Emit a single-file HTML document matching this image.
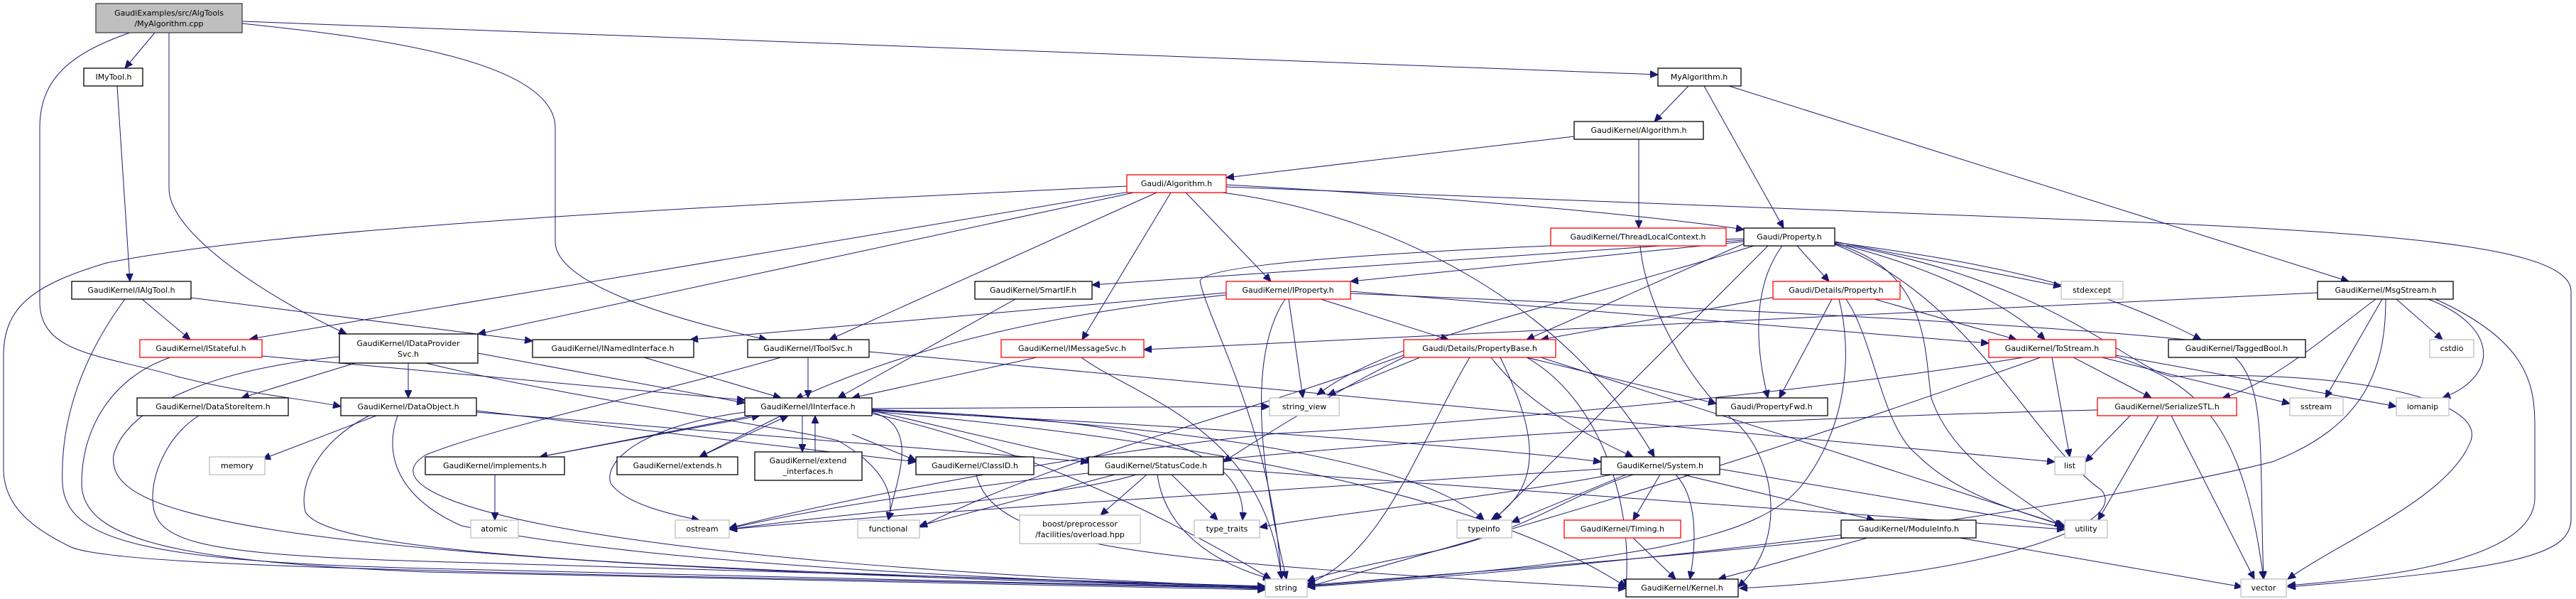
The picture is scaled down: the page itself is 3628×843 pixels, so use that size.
<!DOCTYPE html>
<html><head><meta charset="utf-8"><style>
html,body{margin:0;padding:0;background:#fff}
svg{display:block}
text{font-family:"DejaVu Sans","Liberation Sans",sans-serif;font-size:11px;fill:#000;text-anchor:middle}
.n rect{fill:#fff;stroke:#000;stroke-width:1.3}
.r rect{fill:#fff;stroke:#f00;stroke-width:1.3}
.g rect{fill:#fff;stroke:#bfbfbf;stroke-width:1.3}
.e path{fill:none;stroke:#191970;stroke-width:1}
</style></head><body>
<svg width="3628" height="843" viewBox="0 0 3628 843" xmlns="http://www.w3.org/2000/svg">
<defs><marker id="a" markerUnits="userSpaceOnUse" markerWidth="12" markerHeight="10" refX="11" refY="5" orient="auto"><path d="M0,0 L11,5 L0,10 z" fill="#191970" stroke="#191970"/></marker></defs>
<g class="e" marker-end="url(#a)">
<!-- top node -->
<path d="M218,46 L176,96"/>
<path d="M183,46 C100,75 56,110 56,180 L56,425 C56,500 150,500 250,530 C350,555 420,560 480,572"/>
<path d="M238,46 L238,265 C238,330 380,420 488,470"/>
<path d="M341,33 C500,50 782,80 782,180 L782,340 C782,400 950,450 1080,478"/>
<path d="M341,30 L2335,105"/>
<path d="M165,121 L183,396"/>
<path d="M200,421 L268,478"/>
<path d="M176,421 C110,510 85,600 88,680 C92,760 200,790 600,800 L1782,828"/>
<path d="M269,419 L750,480"/>
<path d="M369,501 L1049,563"/>
<path d="M240,503 C160,530 115,600 115,680 C115,760 250,790 600,805 L1782,830"/>
<!-- Gaudi/Algorithm.h -->
<path d="M1587,262 C1000,290 400,320 150,370 C50,400 5,430 5,500 L5,660 C5,720 60,750 100,770 C150,790 400,800 1000,812 L1782,828"/>
<path d="M1590,270 L352,477"/>
<path d="M1597,271 L673,470"/>
<path d="M1629,271 L1168,478"/>
<path d="M1649,271 L1524,478"/>
<path d="M1670,271 L1790,396"/>
<path d="M1721,271 C1950,300 2200,420 2330,643"/>
<path d="M1727,260 C2000,275 2300,300 2456,323"/>
<path d="M1727,263 L3020,313 C3400,330 3621,350 3621,410 L3621,730 C3621,780 3550,800 3222,826"/>
<path d="M2217,192 L1727,250"/>
<path d="M2308,196 L2308,321"/>
<path d="M2378,121 L2330,171"/>
<path d="M2400,121 L2512,321"/>
<path d="M2435,121 L3308,396"/>
<path d="M2310,346 C2320,450 2400,560 2440,590 C2500,640 2520,760 2448,826"/>
<!-- Gaudi/Property.h -->
<path d="M2531,346 L2576,396"/>
<path d="M2510,346 C2470,400 2470,480 2490,560"/>
<path d="M2584,340 L2903,403"/>
<path d="M2584,341 C2800,370 2950,400 3100,478"/>
<path d="M2584,342 C2700,370 2820,420 2880,478"/>
<path d="M2584,343 C2720,380 2710,500 2720,560 C2750,650 2850,700 2905,742"/>
<path d="M2584,344 C2780,420 2860,620 2960,690 C3000,740 2800,810 2450,828"/>
<path d="M2490,346 L2104,732"/>
<path d="M2470,346 C2200,430 1950,480 1855,556"/>
<path d="M2456,343 L2150,478"/>
<path d="M2456,340 L1902,396"/>
<path d="M2456,338 L1538,401"/>
<path d="M2456,336 C2000,350 1700,370 1690,395 C1700,450 1790,600 1805,815"/>
<path d="M2600,345 C2900,400 3000,520 3060,530 C3300,520 3500,560 3480,620 C3450,700 3300,760 3222,815"/>
<!-- Details/Property.h -->
<path d="M2580,421 L2506,560"/>
<path d="M2640,421 L2840,478"/>
<path d="M2500,418 L2170,478"/>
<path d="M2600,421 C2640,480 2650,600 2700,640 C2760,700 2850,720 2905,740"/>
<path d="M2590,421 C2610,500 2600,600 2540,680 C2480,760 2300,790 1841,825"/>
<!-- IProperty -->
<path d="M1860,421 L2040,478"/>
<path d="M1815,421 L1835,560"/>
<path d="M1727,415 C1500,440 1300,480 1120,562"/>
<path d="M1727,412 L972,478"/>
<path d="M1810,421 C1770,480 1760,600 1812,815"/>
<path d="M1902,410 L2801,483"/>
<path d="M1902,413 C2300,430 2800,450 3100,480 C3200,500 3180,600 3188,815"/>
<!-- misc row6 -->
<path d="M1460,503 L1200,560"/>
<path d="M1523,503 C1600,560 1780,600 1805,815"/>
<path d="M3264,412 L1611,492"/>
<path d="M1430,421 L1180,560"/>
<path d="M1138,503 L1138,560"/>
<path d="M1224,495 L2894,650"/>
<path d="M1100,503 C900,560 700,600 600,640 C500,700 800,790 1782,826"/>
<path d="M907,503 L1100,560"/>
<path d="M673,497 L1049,567"/>
<path d="M575,511 L575,560"/>
<path d="M500,511 L340,560"/>
<path d="M478,502 C300,520 180,570 160,640 C150,720 300,790 1782,827"/>
<path d="M600,511 C800,560 1100,600 1180,620 C1250,660 1260,700 1251,732"/>
<!-- DataObject / DSI -->
<path d="M530,585 L370,646"/>
<path d="M671,578 L1290,650"/>
<path d="M671,580 L1533,650"/>
<path d="M520,585 C450,620 420,680 430,720 C460,780 900,800 1782,826"/>
<path d="M560,585 C540,640 560,700 650,740 C900,790 1300,810 1782,829"/>
<path d="M280,585 C240,610 215,660 215,700 C215,760 260,780 600,790 L1782,825"/>
<!-- IInterface -->
<path d="M1060,585 L760,643"/>
<path d="M760,643 L1070,585"/>
<path d="M1100,585 L985,643"/>
<path d="M985,643 L1110,585"/>
<path d="M1130,585 L1130,636"/>
<path d="M1148,636 L1148,585"/>
<path d="M1228,578 L1540,650"/>
<path d="M1200,611 L1290,648"/>
<path d="M1049,580 C900,600 850,650 860,680 C880,710 950,725 985,732"/>
<path d="M1228,575 L1788,572"/>
<path d="M1228,576 C1500,590 1760,600 1750,732"/>
<path d="M1228,577 C1700,600 2000,650 2090,732"/>
<path d="M1228,579 C1700,620 2100,700 2290,826"/>
<path d="M1228,580 C1300,600 1260,680 1251,732"/>
<path d="M1228,582 C1400,620 1600,700 1790,815"/>
<path d="M1228,578 C1700,600 2100,630 2255,650"/>
<path d="M697,668 L697,732"/>
<!-- StatusCode -->
<path d="M1615,668 L1550,725"/>
<path d="M1650,668 L1715,732"/>
<path d="M1570,668 L1295,740"/>
<path d="M1630,668 C1640,740 1700,790 1790,815"/>
<path d="M1723,660 L2908,745"/>
<path d="M1600,668 C1500,700 1200,720 1027,745"/>
<path d="M1375,668 C1400,770 1600,790 2290,828"/>
<!-- PropertyBase -->
<path d="M2000,503 L1870,556"/>
<path d="M2070,503 C2000,620 1950,780 1841,822"/>
<path d="M2113,503 C2160,600 2180,680 2100,732"/>
<path d="M2100,503 C2150,570 2250,620 2300,643"/>
<path d="M2150,503 C2250,560 2300,700 2290,826"/>
<path d="M2170,503 L2908,740"/>
<path d="M2150,503 L2417,568"/>
<path d="M1977,503 C1900,540 1800,600 1723,650"/>
<path d="M1977,500 C1700,600 1500,640 1295,742"/>
<!-- ToStream / SerSTL / MsgStream -->
<path d="M2890,503 L2915,643"/>
<path d="M2920,503 L3030,560"/>
<path d="M2960,503 L3225,568"/>
<path d="M2980,500 L3375,572"/>
<path d="M2980,502 C3100,540 3160,600 3188,815"/>
<path d="M2874,503 C2600,600 2300,700 1841,826"/>
<path d="M2850,503 C2500,560 2000,600 1800,610 C1500,640 1200,700 1027,743"/>
<path d="M3000,585 L2937,650"/>
<path d="M3040,585 L2955,732"/>
<path d="M3058,585 L3175,815"/>
<path d="M2954,577 C2000,600 1300,680 1027,744"/>
<path d="M3346,421 C3280,470 3200,540 3130,560"/>
<path d="M3355,421 L3275,560"/>
<path d="M3375,421 L3440,478"/>
<path d="M3420,421 C3520,460 3520,530 3440,560"/>
<path d="M3430,421 C3560,480 3570,540 3570,600 L3570,700 C3570,780 3400,810 3222,824"/>
<path d="M3360,421 C3360,520 3330,600 3200,650 C3000,700 2500,780 1841,826"/>
<!-- System / Timing / ModuleInfo -->
<path d="M2290,668 L2129,735"/>
<path d="M2338,668 L2300,732"/>
<path d="M2360,668 C2390,700 2390,760 2380,815"/>
<path d="M2300,668 C2200,700 2150,750 2000,780 C1900,800 1860,810 1841,818"/>
<path d="M2255,660 C1800,690 1300,720 1027,745"/>
<path d="M2370,668 L2640,732"/>
<path d="M2422,660 L2908,742"/>
<path d="M2270,668 C2100,700 1900,720 1774,742"/>
<path d="M2300,757 L2360,815"/>
<path d="M2630,757 L2420,815"/>
<path d="M2600,757 C2300,790 2000,810 1841,824"/>
<path d="M2760,757 L3158,826"/>
</g>
<!-- nodes -->
<g><rect x="135" y="5" width="206" height="41" fill="#bfbfbf" stroke="#404040" stroke-width="1.3"/><text x="238" y="22">GaudiExamples/src/AlgTools</text><text x="238" y="37">/MyAlgorithm.cpp</text></g>
<g class="n"><rect x="118" y="96" width="83" height="25"/><text x="160" y="112">IMyTool.h</text></g>
<g class="n"><rect x="2335" y="96" width="117" height="25"/><text x="2393" y="112">MyAlgorithm.h</text></g>
<g class="n"><rect x="2217" y="171" width="182" height="25"/><text x="2308" y="187">GaudiKernel/Algorithm.h</text></g>
<g class="r"><rect x="1587" y="246" width="140" height="25"/><text x="1657" y="262">Gaudi/Algorithm.h</text></g>
<g class="r"><rect x="2184" y="321" width="247" height="25"/><text x="2307" y="337">GaudiKernel/ThreadLocalContext.h</text></g>
<g class="n"><rect x="2456" y="321" width="128" height="25"/><text x="2520" y="337">Gaudi/Property.h</text></g>
<g class="n"><rect x="101" y="396" width="168" height="25"/><text x="185" y="412">GaudiKernel/IAlgTool.h</text></g>
<g class="n"><rect x="1373" y="396" width="165" height="25"/><text x="1455" y="412">GaudiKernel/SmartIF.h</text></g>
<g class="r"><rect x="1727" y="396" width="175" height="25"/><text x="1814" y="412">GaudiKernel/IProperty.h</text></g>
<g class="r"><rect x="2497" y="396" width="179" height="25"/><text x="2586" y="412">Gaudi/Details/Property.h</text></g>
<g class="g"><rect x="2903" y="396" width="87" height="25"/><text x="2946" y="412">stdexcept</text></g>
<g class="n"><rect x="3264" y="396" width="191" height="25"/><text x="3360" y="412">GaudiKernel/MsgStream.h</text></g>
<g class="r"><rect x="197" y="478" width="172" height="25"/><text x="283" y="494">GaudiKernel/IStateful.h</text></g>
<g class="n"><rect x="478" y="470" width="195" height="41"/><text x="575" y="487">GaudiKernel/IDataProvider</text><text x="575" y="502">Svc.h</text></g>
<g class="n"><rect x="750" y="478" width="227" height="25"/><text x="863" y="494">GaudiKernel/INamedInterface.h</text></g>
<g class="n"><rect x="1053" y="478" width="171" height="25"/><text x="1138" y="494">GaudiKernel/IToolSvc.h</text></g>
<g class="r"><rect x="1410" y="478" width="201" height="25"/><text x="1510" y="494">GaudiKernel/IMessageSvc.h</text></g>
<g class="r"><rect x="1977" y="478" width="214" height="25"/><text x="2084" y="494">Gaudi/Details/PropertyBase.h</text></g>
<g class="r"><rect x="2801" y="478" width="179" height="25"/><text x="2890" y="494">GaudiKernel/ToStream.h</text></g>
<g class="n"><rect x="3054" y="478" width="193" height="25"/><text x="3150" y="494">GaudiKernel/TaggedBool.h</text></g>
<g class="g"><rect x="3422" y="478" width="62" height="25"/><text x="3453" y="494">cstdio</text></g>
<g class="n"><rect x="193" y="560" width="213" height="25"/><text x="300" y="576">GaudiKernel/DataStoreItem.h</text></g>
<g class="n"><rect x="480" y="560" width="191" height="25"/><text x="575" y="576">GaudiKernel/DataObject.h</text></g>
<g class="n"><rect x="1049" y="560" width="179" height="25"/><text x="1138" y="576">GaudiKernel/IInterface.h</text></g>
<g class="g"><rect x="1788" y="560" width="98" height="25"/><text x="1837" y="576">string_view</text></g>
<g class="n"><rect x="2417" y="560" width="157" height="25"/><text x="2495" y="576">Gaudi/PropertyFwd.h</text></g>
<g class="r"><rect x="2954" y="560" width="196" height="25"/><text x="3052" y="576">GaudiKernel/SerializeSTL.h</text></g>
<g class="g"><rect x="3225" y="560" width="75" height="25"/><text x="3262" y="576">sstream</text></g>
<g class="g"><rect x="3375" y="560" width="74" height="25"/><text x="3412" y="576">iomanip</text></g>
<g class="g"><rect x="295" y="643" width="78" height="25"/><text x="334" y="659">memory</text></g>
<g class="n"><rect x="599" y="643" width="196" height="25"/><text x="697" y="659">GaudiKernel/implements.h</text></g>
<g class="n"><rect x="869" y="643" width="170" height="25"/><text x="954" y="659">GaudiKernel/extends.h</text></g>
<g class="n"><rect x="1063" y="636" width="151" height="40"/><text x="1138" y="652">GaudiKernel/extend</text><text x="1138" y="667">_interfaces.h</text></g>
<g class="n"><rect x="1290" y="643" width="166" height="25"/><text x="1373" y="659">GaudiKernel/ClassID.h</text></g>
<g class="n"><rect x="1533" y="643" width="190" height="25"/><text x="1628" y="659">GaudiKernel/StatusCode.h</text></g>
<g class="n"><rect x="2255" y="643" width="167" height="25"/><text x="2338" y="659">GaudiKernel/System.h</text></g>
<g class="g"><rect x="2894" y="643" width="43" height="25"/><text x="2915" y="659">list</text></g>
<g class="g"><rect x="663" y="732" width="67" height="25"/><text x="696" y="748">atomic</text></g>
<g class="g"><rect x="951" y="732" width="76" height="25"/><text x="989" y="748">ostream</text></g>
<g class="g"><rect x="1208" y="732" width="87" height="25"/><text x="1251" y="748">functional</text></g>
<g class="g"><rect x="1436" y="725" width="170" height="40"/><text x="1521" y="741">boost/preprocessor</text><text x="1521" y="756">/facilities/overload.hpp</text></g>
<g class="g"><rect x="1682" y="732" width="92" height="25"/><text x="1728" y="748">type_traits</text></g>
<g class="g"><rect x="2052" y="732" width="77" height="25"/><text x="2090" y="748">typeinfo</text></g>
<g class="r"><rect x="2203" y="732" width="164" height="25"/><text x="2285" y="748">GaudiKernel/Timing.h</text></g>
<g class="n"><rect x="2593" y="732" width="190" height="25"/><text x="2688" y="748">GaudiKernel/ModuleInfo.h</text></g>
<g class="g"><rect x="2908" y="732" width="60" height="25"/><text x="2938" y="748">utility</text></g>
<g class="g"><rect x="1782" y="815" width="59" height="25"/><text x="1811" y="831">string</text></g>
<g class="n"><rect x="2290" y="815" width="158" height="25"/><text x="2369" y="831">GaudiKernel/Kernel.h</text></g>
<g class="g"><rect x="3156" y="815" width="64" height="25"/><text x="3188" y="831">vector</text></g>
</svg>
</body></html>
